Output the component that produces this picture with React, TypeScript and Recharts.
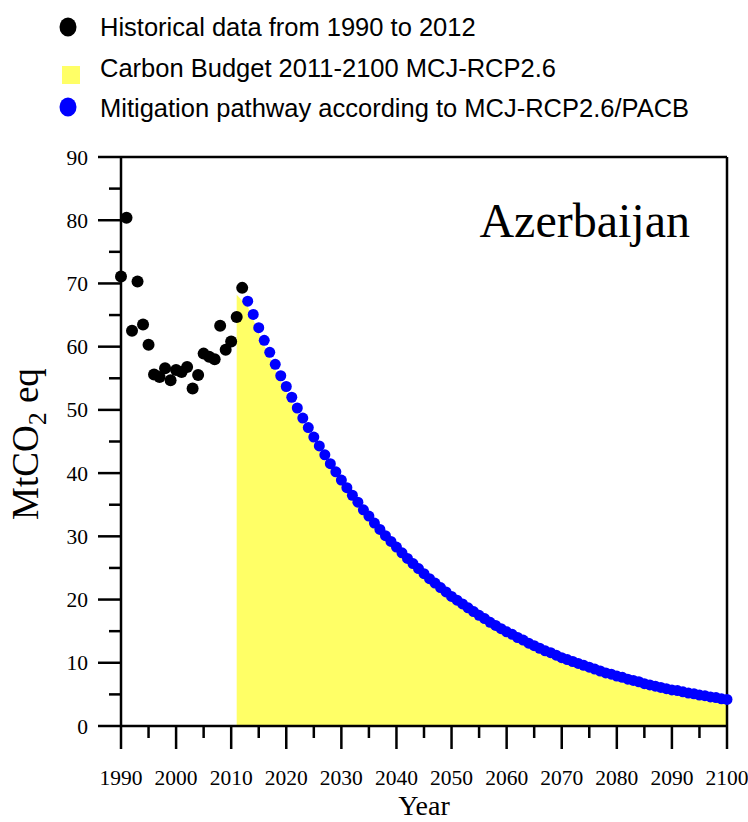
import React from 'react';
import { ComposedChart, Area, Scatter, XAxis, YAxis } from 'recharts';

// ---------- data ----------
const histYears = [1990, 1991, 1992, 1993, 1994, 1995, 1996, 1997, 1998, 1999, 2000, 2001, 2002, 2003, 2004, 2005, 2006, 2007, 2008, 2009, 2010, 2011, 2012];
const histValues = [71.1, 80.4, 62.5, 70.3, 63.5, 60.3, 55.6, 55.2, 56.6, 54.7, 56.3, 56.0, 56.8, 53.4, 55.5, 58.9, 58.4, 58.0, 63.3, 59.5, 60.8, 64.7, 69.3];

const pathStartYear = 2013;
const pathValues = [
  67.2, 65.1, 63.0, 61.0, 59.1, 57.2, 55.4, 53.7, 52.0, 50.3,
  48.7, 47.2, 45.7, 44.3, 42.9, 41.5, 40.2, 38.9, 37.7, 36.5,
  35.4, 34.2, 33.2, 32.1, 31.1, 30.1, 29.2, 28.3, 27.4, 26.5,
  25.7, 24.9, 24.1, 23.3, 22.6, 21.9, 21.2, 20.5, 19.9, 19.3,
  18.7, 18.1, 17.5, 17.0, 16.4, 15.9, 15.4, 14.9, 14.5, 14.0,
  13.6, 13.1, 12.7, 12.3, 11.9, 11.6, 11.2, 10.8, 10.5, 10.2,
  9.9, 9.6, 9.3, 9.0, 8.7, 8.4, 8.2, 7.9, 7.7, 7.4,
  7.2, 7.0, 6.7, 6.5, 6.3, 6.1, 5.9, 5.7, 5.6, 5.4,
  5.2, 5.1, 4.9, 4.8, 4.6, 4.5, 4.3, 4.2,
];

const budgetStartYear = 2011;
const budgetValues = [
  68.2, 67.3, 66.4, 64.3, 62.2, 60.2, 58.3, 56.4, 54.6, 52.9,
  51.2, 49.5, 47.9, 46.4, 44.9, 43.5, 42.1, 40.7, 39.4, 38.1,
  36.9, 35.7, 34.6, 33.4, 32.4, 31.3, 30.3, 29.3, 28.4, 27.5,
  26.6, 25.7, 24.9, 24.1, 23.3, 22.5, 21.8, 21.1, 20.4, 19.7,
  19.1, 18.5, 17.9, 17.3, 16.7, 16.2, 15.6, 15.1, 14.6, 14.1,
  13.7, 13.2, 12.8, 12.3, 11.9, 11.5, 11.1, 10.8, 10.4, 10.0,
  9.7, 9.4, 9.1, 8.8, 8.5, 8.2, 7.9, 7.6, 7.4, 7.1,
  6.9, 6.6, 6.4, 6.2, 5.9, 5.7, 5.5, 5.3, 5.1, 4.9,
  4.8, 4.6, 4.4, 4.3, 4.1, 4.0, 3.8, 3.7, 3.5, 3.4,
];

const xTicks = [1990, 1995, 2000, 2005, 2010, 2015, 2020, 2025, 2030, 2035, 2040, 2045, 2050, 2055, 2060, 2065, 2070, 2075, 2080, 2085, 2090, 2095, 2100];
const yTicks = [0, 5, 10, 15, 20, 25, 30, 35, 40, 45, 50, 55, 60, 65, 70, 75, 80, 85, 90];

const legendLabels = [
  'Historical data from 1990 to 2012',
  'Carbon Budget 2011-2100 MCJ-RCP2.6',
  'Mitigation pathway according to MCJ-RCP2.6/PACB',
];
const countryName = 'Azerbaijan';

const histData = histYears.map((y, i) => ({ year: y, value: histValues[i] }));
const pathData = pathValues.map((v, i) => ({ year: pathStartYear + i, value: v }));
const budgetData = budgetValues.map((v, i) => ({ year: budgetStartYear + i, value: v }));

// ---------- style ----------
const SERIF = '"Liberation Serif", "Times New Roman", Times, serif';
const SANS = '"Liberation Sans", Arial, Helvetica, sans-serif';
const MAJOR = 23;
const MINOR = 12;
const SW = 2.5;

const BottomTick = (p: any) => {
  const v = p.payload.value;
  const major = v % 10 === 0;
  return (
    <g>
      <line x1={p.x} y1={p.y} x2={p.x} y2={p.y + (major ? MAJOR : MINOR)} stroke="#000" strokeWidth={SW} />
      {major && (
        <text x={p.x} y={p.y + 59} textAnchor="middle" fontFamily={SERIF} fontSize={21.5} fill="#000">
          {v}
        </text>
      )}
    </g>
  );
};

const TopTick = (p: any) => {
  const v = p.payload.value;
  const major = v % 10 === 0;
  return <line x1={p.x} y1={p.y} x2={p.x} y2={p.y + (major ? MAJOR : MINOR)} stroke="#000" strokeWidth={SW} />;
};

const LeftTick = (p: any) => {
  const v = p.payload.value;
  const major = v % 10 === 0;
  return (
    <g>
      <line x1={p.x} y1={p.y} x2={p.x - (major ? MAJOR : MINOR)} y2={p.y} stroke="#000" strokeWidth={SW} />
      {major && (
        <text x={p.x - 33} y={p.y} dy="0.35em" textAnchor="end" fontFamily={SERIF} fontSize={21.5} fill="#000">
          {v}
        </text>
      )}
    </g>
  );
};

const RightTick = (p: any) => {
  const v = p.payload.value;
  const major = v % 10 === 0;
  return <line x1={p.x} y1={p.y} x2={p.x - (major ? MAJOR : MINOR)} y2={p.y} stroke="#000" strokeWidth={SW} />;
};

const BlackDot = (p: any) => <circle cx={p.cx} cy={p.cy} r={6} fill="#000" />;
const BlueDot = (p: any) => <circle cx={p.cx} cy={p.cy} r={5.5} fill="#0000ff" />;

const axisCommon = {
  type: 'number' as const,
  interval: 0 as const,
  tickSize: 0,
  tickMargin: 0,
  tickLine: false,
  axisLine: { stroke: '#000', strokeWidth: SW },
};

export default function App() {
  return (
    <div style={{ position: 'absolute', left: 0, top: 0, width: 748, height: 822, background: '#fff' }}>
      <ComposedChart width={748} height={822} margin={{ top: 156, right: 20, bottom: 95, left: 120 }}>
        <XAxis xAxisId="b" dataKey="year" orientation="bottom" domain={[1990, 2100]} ticks={xTicks} height={1} tick={<BottomTick />} {...axisCommon} />
        <XAxis xAxisId="t" dataKey="year" orientation="top" domain={[1990, 2100]} ticks={xTicks} height={1} tick={<TopTick />} {...axisCommon} />
        <YAxis yAxisId="l" dataKey="value" orientation="left" domain={[0, 90]} ticks={yTicks} width={1} tick={<LeftTick />} {...axisCommon} />
        <YAxis yAxisId="r" dataKey="value" orientation="right" domain={[0, 90]} ticks={yTicks} width={1} tick={<RightTick />} {...axisCommon} />
        <Area
          xAxisId="b"
          yAxisId="l"
          data={budgetData}
          dataKey="value"
          type="linear"
          baseValue={0}
          fill="#ffff66"
          fillOpacity={1}
          stroke="none"
          isAnimationActive={false}
        />
        <Scatter xAxisId="b" yAxisId="l" data={histData} dataKey="value" shape={<BlackDot />} isAnimationActive={false} />
        <Scatter xAxisId="b" yAxisId="l" data={pathData} dataKey="value" shape={<BlueDot />} isAnimationActive={false} />
      </ComposedChart>

      <svg width={748} height={822} style={{ position: 'absolute', left: 0, top: 0, pointerEvents: 'none' }}>
        {/* legend */}
        <ellipse cx={68} cy={27} rx={8.5} ry={9.5} fill="#000" />
        <text x={100} y={27} dy="0.36em" fontFamily={SANS} fontSize={25.5} fill="#000">{legendLabels[0]}</text>
        <rect x={62} y={66} width={18} height={18} fill="#ffff66" />
        <text x={100} y={68} dy="0.36em" fontFamily={SANS} fontSize={25.5} fill="#000">{legendLabels[1]}</text>
        <ellipse cx={68} cy={107} rx={8.5} ry={9.5} fill="#0000ff" />
        <text x={100} y={108} dy="0.36em" fontFamily={SANS} fontSize={25.5} fill="#000">{legendLabels[2]}</text>

        {/* title */}
        <text x={690} y={237} textAnchor="end" fontFamily={SERIF} fontSize={48} fill="#000">{countryName}</text>

        {/* axis labels */}
        <text x={424} y={815} textAnchor="middle" fontFamily={SERIF} fontSize={28} fill="#000">Year</text>
        <text
          x={0}
          y={0}
          transform="translate(38, 444) rotate(-90)"
          textAnchor="middle"
          fontFamily={SERIF}
          fontSize={37}
          fill="#000"
        >
          MtCO<tspan dy={8} fontSize={26}>2</tspan><tspan dy={-8}> eq</tspan>
        </text>
      </svg>
    </div>
  );
}
